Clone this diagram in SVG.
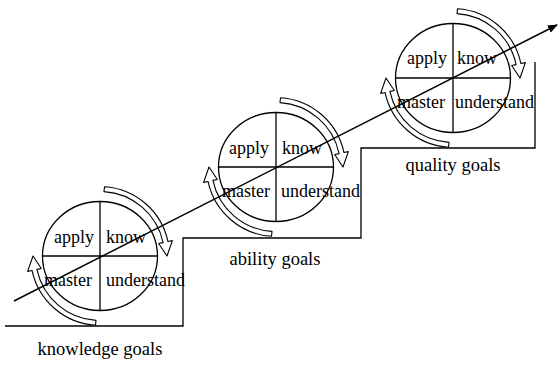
<svg xmlns="http://www.w3.org/2000/svg" width="560" height="365" viewBox="0 0 560 365">
<style>
.c{fill:#fff;stroke:#000;stroke-width:1.3}
.d{stroke:#000;stroke-width:1.3;fill:none}
.ar{fill:#fff;stroke:#000;stroke-width:1.1;stroke-linejoin:round}
.t{font-family:"Liberation Serif","Times New Roman",serif;font-size:18px;fill:#000}
.g{font-family:"Liberation Serif","Times New Roman",serif;font-size:18.5px;fill:#000;text-anchor:middle}
</style>
<defs>
<path id="rot" class="ar" d="M4.5,-69.3 A69.5,69.5 0 0 1 67.98,-14.45 L72.38,-15.39 L67,0 L58.69,-12.47 L63.09,-13.41 A64.5,64.5 0 0 0 4.0,-64.4 Z"/>
<marker id="ah" viewBox="0 0 10 8" refX="9" refY="4" markerWidth="10" markerHeight="8" markerUnits="userSpaceOnUse" orient="auto">
<path d="M0,0 L10,4 L0,8 Z" fill="#000"/>
</marker>
</defs>
<g id="stairs">
<path class="d" d="M5,326 H183 V238 H361 V148 H535 V62"/>
</g>
<g id="node-knowledge">
<ellipse class="c" cx="100" cy="256" rx="57.5" ry="54.5"/>
<path class="d" d="M100,201.5 V310.5 M42.5,256 H157.5"/>
<use href="#rot" transform="translate(100,256)"/>
<use href="#rot" transform="translate(100,256) rotate(180)"/>
<text class="t" x="54" y="243">apply</text>
<text class="t" x="106" y="243">know</text>
<text class="t" x="44" y="286">master</text>
<text class="t" x="106" y="286">understand</text>
<text class="g" x="100" y="355">knowledge goals</text>
</g>
<g id="node-ability">
<ellipse class="c" cx="276" cy="167" rx="57.5" ry="54.5"/>
<path class="d" d="M276,112.5 V221.5 M218.5,167 H333.5"/>
<use href="#rot" transform="translate(276,167)"/>
<use href="#rot" transform="translate(276,167) rotate(180)"/>
<text class="t" x="229" y="154">apply</text>
<text class="t" x="282" y="154">know</text>
<text class="t" x="222" y="197">master</text>
<text class="t" x="281" y="197">understand</text>
<text class="g" x="275" y="265">ability goals</text>
</g>
<g id="node-quality">
<ellipse class="c" cx="453" cy="78" rx="57.5" ry="54.5"/>
<path class="d" d="M453,23.5 V132.5 M395.5,78 H510.5"/>
<use href="#rot" transform="translate(453,78)"/>
<use href="#rot" transform="translate(453,78) rotate(180)"/>
<text class="t" x="407" y="64">apply</text>
<text class="t" x="457" y="64">know</text>
<text class="t" x="397" y="108">master</text>
<text class="t" x="455" y="108">understand</text>
<text class="g" x="453" y="171">quality goals</text>
</g>
<g id="connectors">
<line x1="14" y1="301" x2="557" y2="25" stroke="#000" stroke-width="1.5" marker-end="url(#ah)"/>
</g>
</svg>
